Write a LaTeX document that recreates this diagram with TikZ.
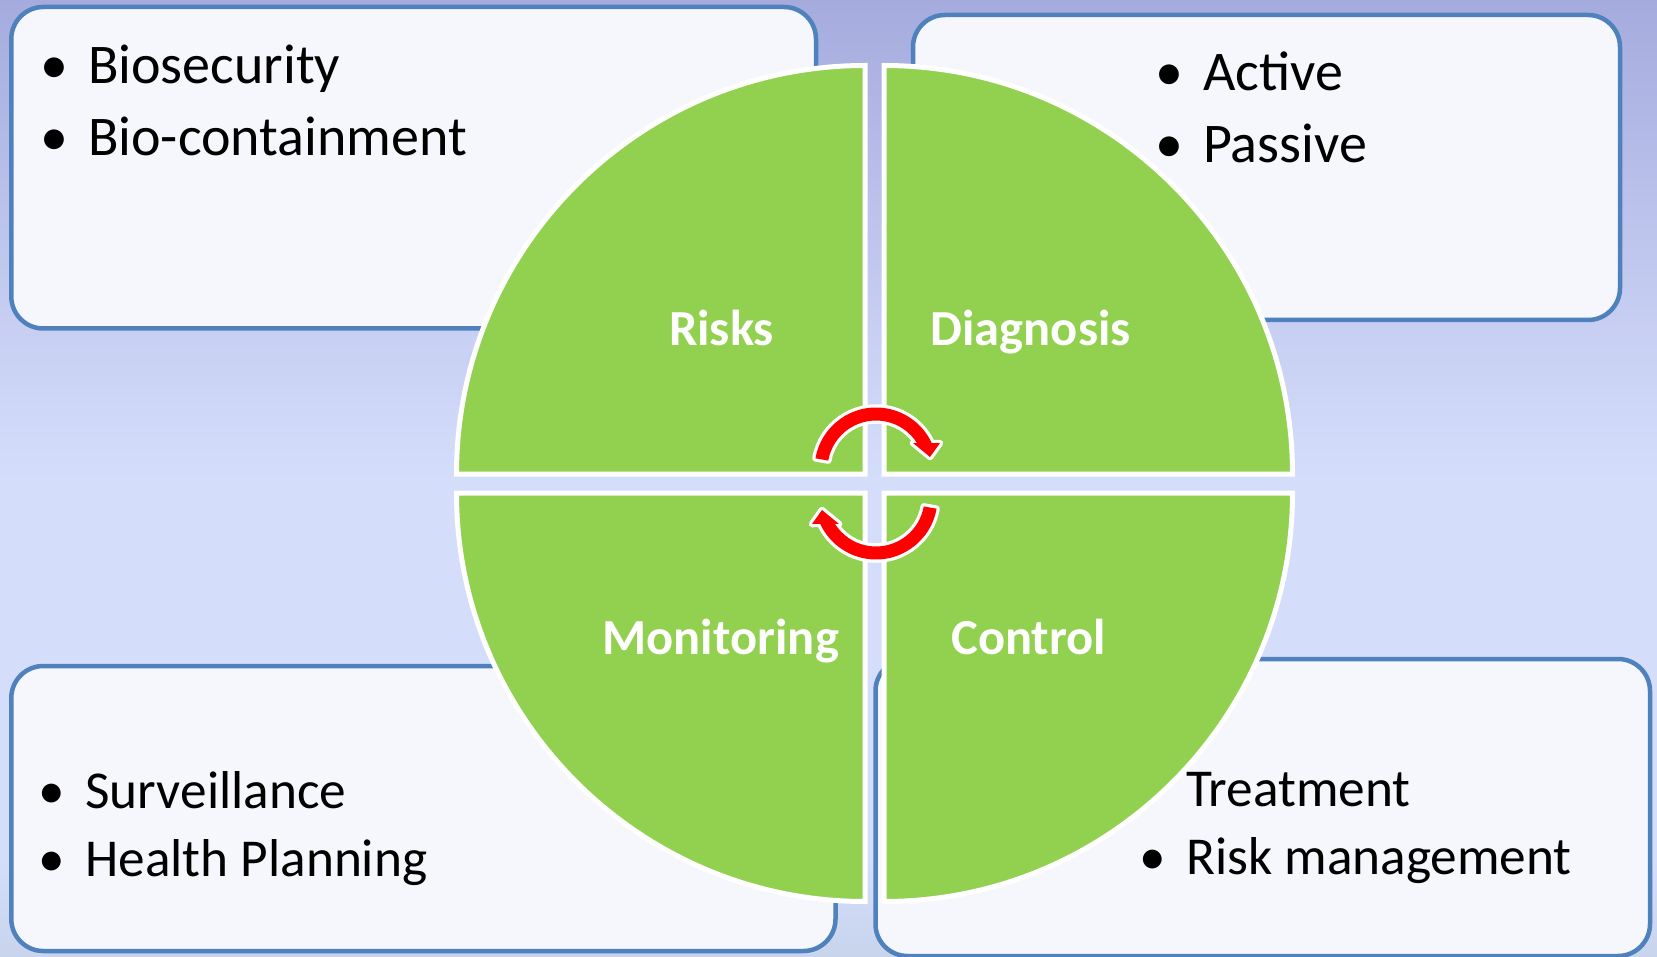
\documentclass[tikz,border=0pt]{standalone}
\usepackage{fontspec}
\setmainfont{Carlito}
\usetikzlibrary{calc}
\definecolor{bgA}{HTML}{A5ABDD}
\definecolor{bgB}{HTML}{C5CCF1}
\definecolor{bgC}{HTML}{D4DEFB}
\definecolor{bgD}{HTML}{C8D3EC}
\definecolor{boxfill}{HTML}{F6F7FC}
\definecolor{boxline}{HTML}{4F81BD}
\definecolor{quadgreen}{HTML}{92D050}
\definecolor{arrowred}{HTML}{FF0000}
\newcommand\myArrowPath{(170:61.5) arc[start angle=170,end angle=25,radius=61.5] -- (64,26) -- (54,12) -- (37,26) -- (32.4:48.5) arc[start angle=32.4,end angle=170,radius=48.5] -- cycle}
\tikzset{
  infobox/.style={draw=boxline, line width=4.5pt, fill=boxfill, rounded corners=32pt, rectangle, inner sep=0pt},
  quad/.style={fill=quadgreen, draw=white, line width=5pt, line join=miter},
  lbl/.style={text=white, anchor=base, inner sep=0pt, font=\fontsize{50.5}{60}\selectfont\bfseries},
  bigtxt/.style={anchor=base west, inner sep=0pt, font=\fontsize{56}{66}\selectfont},
  smalltxt/.style={anchor=base west, inner sep=0pt, font=\fontsize{53.3}{63}\selectfont},
}
\newcommand\bul{\makebox[0pt]{•}\hspace{33.5pt}}
\begin{document}
\begin{tikzpicture}[x=1pt,y=1pt]
\useasboundingbox (0,0) rectangle (1657,-957);
% background
\shade[top color=bgA,bottom color=bgB] (0,0.5) rectangle (1657,-300.5);
\shade[top color=bgB,bottom color=bgC] (0,-300) rectangle (1657,-480.5);
\fill[bgC] (0,-480) rectangle (1657,-860.5);
\shade[top color=bgC,bottom color=bgD] (0,-860) rectangle (1657,-957.5);
% boxes
\node[infobox, minimum width=804.7pt, minimum height=321.5pt] (boxTL) at (413.65,-167.75) {};
\node[infobox, minimum width=707pt, minimum height=305pt] (boxTR) at (1266.5,-167.5) {};
\node[infobox, minimum width=824.2pt, minimum height=285pt] (boxBL) at (423.4,-808.5) {};
\node[infobox, minimum width=774.5pt, minimum height=297pt] (boxBR) at (1262.75,-807.5) {};
% box texts
\node[bigtxt] (t1) at (54.5,-83.5) {\bul Biosecurity};
\node[bigtxt] (t2) at (54.5,-155.2) {\bul Bio-containment};
\node[bigtxt] (t3) at (1169.5,-91) {\bul Active};
\node[bigtxt] (t4) at (1169.5,-162.7) {\bul Passive};
\node[smalltxt] (t5) at (51.7,-808.3) {\bul Surveillance};
\node[smalltxt] (t6) at (51.7,-876.7) {\bul Health Planning};
\node[smalltxt] (t7) at (1186,-806.5) {Treatment};
\node[smalltxt] (t8) at (1152.5,-874.3) {\bul Risk management};
% quadrants
\path[quad] (865,-474) -- ++(-408.5,0) arc[start angle=180,end angle=90,radius=408.5] -- cycle;
\path[quad] (884,-474) -- ++(0,408.5) arc[start angle=90,end angle=0,radius=408.5] -- cycle;
\path[quad] (865,-493) -- ++(-408.5,0) arc[start angle=180,end angle=270,radius=408.5] -- cycle;
\path[quad] (884,-493) -- ++(408.5,0) arc[start angle=0,end angle=-90,radius=408.5] -- cycle;
% labels
\node[lbl] (risks) at (721.5,-346) {Risks};
\node[lbl] (diag) at (1030.7,-346) {Diagnosis};
\node[lbl] (moni) at (720.7,-654) {Monitoring};
\node[lbl] (ctrl) at (1028.8,-654) {Control};
% cycle arrows
\begin{scope}[shift={(876,-469)}]
  \draw[white, line width=6.5pt, line join=round] \myArrowPath;
  \fill[arrowred] \myArrowPath;
\end{scope}
\begin{scope}[shift={(876,-498)}, rotate=180]
  \draw[white, line width=6.5pt, line join=round] \myArrowPath;
  \fill[arrowred] \myArrowPath;
\end{scope}
\end{tikzpicture}
\end{document}
